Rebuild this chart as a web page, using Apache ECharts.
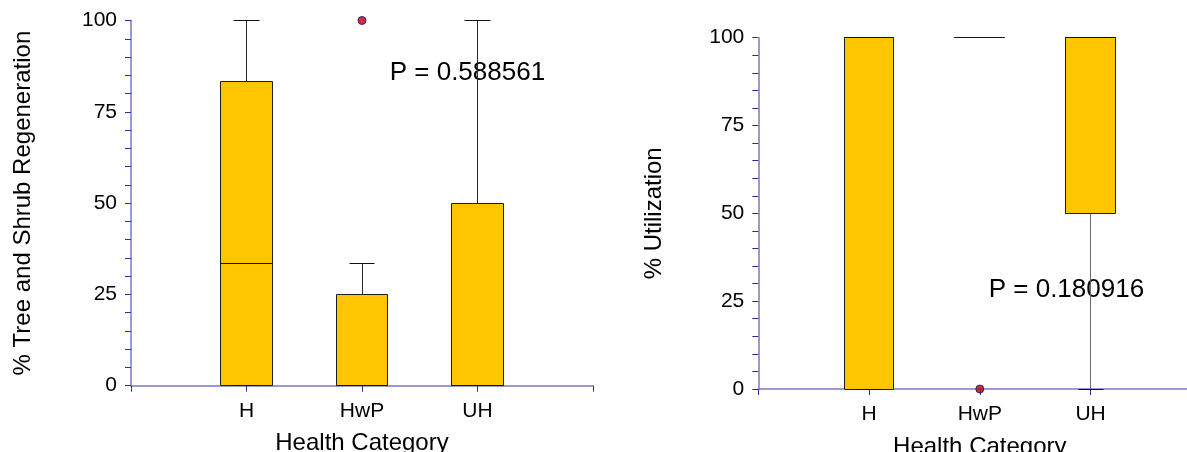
<!DOCTYPE html>
<html>
<head>
<meta charset="utf-8">
<title>Health Category box plots</title>
<script src="https://cdn.jsdelivr.net/npm/echarts@6/dist/echarts.min.js"></script>
<style>
  html, body { margin: 0; padding: 0; background: #ffffff; }
  #chart { width: 1187px; height: 452px; }
</style>
</head>
<body>
<div id="chart"></div>
<script>
// Health categories shown on both panels
const categories = ['H', 'HwP', 'UH'];

// Box statistics per category: [min, Q1, median, Q3, max]
const regenBoxes = [
  [0, 0, 33.33, 83.33, 100],
  [0, 0, 0, 25, 33.33],
  [0, 0, 0, 50, 100]
];
const regenOutliers = [['HwP', 100]];

const utilBoxes = [
  [0, 0, 100, 100, 100],
  [100, 100, 100, 100, 100],
  [0, 50, 100, 100, 100]
];
const utilOutliers = [['HwP', 0]];

// Value axis ticks
const yMin = 0;
const yMax = 100;
const yStep = 25;

// Test results printed on each panel
const pLabels = ['P = 0.588561', 'P = 0.180916'];

const FONT = 'Liberation Sans, Arial, sans-serif';
const BOX_FILL = '#ffc600';
const AXIS_LINE = '#7a7ac6';
const AXIS_TICK = '#2e2e9a';

// Category axis with an empty slot at each end so categories sit at 1..3
const axisSlots = [''].concat(categories, ['']);

function crisp(v) { return Math.round(v - 0.5) + 0.5; }

function makeBoxRenderer(whiskerColor) {
  return function (params, api) {
    const xi = api.value(0);
    const vals = [api.value(1), api.value(2), api.value(3), api.value(4), api.value(5)];
    const cx = api.coord([xi, 0])[0];
    const ys = vals.map(function (v) { return api.coord([xi, v])[1]; });
    const band = api.size([1, 0])[0];
    const half = band * 0.225;
    const capHalf = half / 2;
    const x0 = crisp(cx - half), x1 = crisp(cx + half);
    const xc = crisp(cx);
    const yMinP = crisp(ys[0]), yQ1 = crisp(ys[1]), yMed = crisp(ys[2]);
    const yQ3 = crisp(ys[3]), yMaxP = crisp(ys[4]);
    const line = function (a, b, c, d, color) {
      return {
        type: 'line',
        shape: { x1: a, y1: b, x2: c, y2: d },
        style: { stroke: color, lineWidth: 1 }
      };
    };
    const children = [];
    // whiskers
    if (yMaxP < yQ3) children.push(line(xc, yMaxP, xc, yQ3, whiskerColor));
    if (yMinP > yQ1) children.push(line(xc, yQ1, xc, yMinP, whiskerColor));
    // box
    children.push({
      type: 'rect',
      shape: { x: x0, y: yQ3, width: x1 - x0, height: yQ1 - yQ3 },
      style: { fill: BOX_FILL, stroke: '#1e1e1e', lineWidth: 1 }
    });
    // median
    children.push(line(x0, yMed, x1, yMed, '#111111'));
    // caps
    children.push(line(crisp(cx - capHalf), yMaxP, crisp(cx + capHalf), yMaxP, '#111111'));
    children.push(line(crisp(cx - capHalf), yMinP, crisp(cx + capHalf), yMinP, '#111111'));
    return { type: 'group', children: children };
  };
}

function boxData(boxes) {
  return boxes.map(function (b, i) { return [i + 1].concat(b); });
}

function xAxisFor(gridIndex) {
  return {
    type: 'category',
    gridIndex: gridIndex,
    data: axisSlots,
    boundaryGap: false,
    name: 'Health Category',
    nameLocation: 'middle',
    nameGap: 46,
    nameTextStyle: { fontFamily: FONT, fontSize: 24, color: '#000' },
    axisLine: { lineStyle: { color: AXIS_LINE, width: 1.5 } },
    axisTick: { show: true, interval: 0, length: 6, lineStyle: { color: AXIS_TICK } },
    axisLabel: { interval: 0, margin: 15, fontFamily: FONT, fontSize: 21, color: '#000' },
    splitLine: { show: false }
  };
}

function yAxisFor(gridIndex, title, gap) {
  return {
    type: 'value',
    gridIndex: gridIndex,
    min: yMin,
    max: yMax,
    interval: yStep,
    name: title,
    nameLocation: 'middle',
    nameGap: gap,
    nameRotate: 90,
    nameTextStyle: { fontFamily: FONT, fontSize: 24, color: '#000' },
    axisLine: { show: true, lineStyle: { color: AXIS_LINE, width: 1.5 } },
    axisTick: { show: true, length: 6, lineStyle: { color: AXIS_TICK } },
    minorTick: { show: true, splitNumber: 5, length: 6, lineStyle: { color: AXIS_TICK } },
    axisLabel: { margin: 14, fontFamily: FONT, fontSize: 21, color: '#000' },
    splitLine: { show: false }
  };
}

function outlierSeries(axisIndex, data) {
  return {
    type: 'scatter',
    xAxisIndex: axisIndex,
    yAxisIndex: axisIndex,
    data: data,
    symbol: 'circle',
    symbolSize: 8,
    itemStyle: { color: '#c00000', borderColor: '#10107a', borderWidth: 1 },
    z: 5,
    silent: true
  };
}

const chart = echarts.init(document.getElementById('chart'), null, { renderer: 'canvas' });

chart.setOption({
  animation: false,
  backgroundColor: '#ffffff',
  grid: [
    { left: 131, top: 20.5, width: 462, height: 365.2, containLabel: false, outerBoundsMode: 'none' },
    { left: 758.3, top: 37.7, width: 443, height: 351.3, containLabel: false, outerBoundsMode: 'none' }
  ],
  xAxis: [xAxisFor(0), xAxisFor(1)],
  yAxis: [
    yAxisFor(0, '% Tree and Shrub Regeneration', 96),
    yAxisFor(1, '% Utilization', 92)
  ],
  graphic: [
    {
      type: 'text', x: 389.7, y: 73, z: 0,
      style: { text: pLabels[0], font: '26px ' + FONT, fill: '#000', verticalAlign: 'middle' }
    },
    {
      type: 'text', x: 988.7, y: 289.5, z: 0,
      style: { text: pLabels[1], font: '26px ' + FONT, fill: '#000', verticalAlign: 'middle' }
    }
  ],
  series: [
    {
      type: 'custom',
      xAxisIndex: 0, yAxisIndex: 0,
      renderItem: makeBoxRenderer('#2a2a2a'),
      encode: { x: 0, y: [1, 2, 3, 4, 5] },
      data: boxData(regenBoxes),
      clip: false,
      z: 3
    },
    outlierSeries(0, regenOutliers),
    {
      type: 'custom',
      xAxisIndex: 1, yAxisIndex: 1,
      renderItem: makeBoxRenderer('#6a6a6a'),
      encode: { x: 0, y: [1, 2, 3, 4, 5] },
      data: boxData(utilBoxes),
      clip: false,
      z: 3
    },
    outlierSeries(1, utilOutliers)
  ]
});
</script>
</body>
</html>
